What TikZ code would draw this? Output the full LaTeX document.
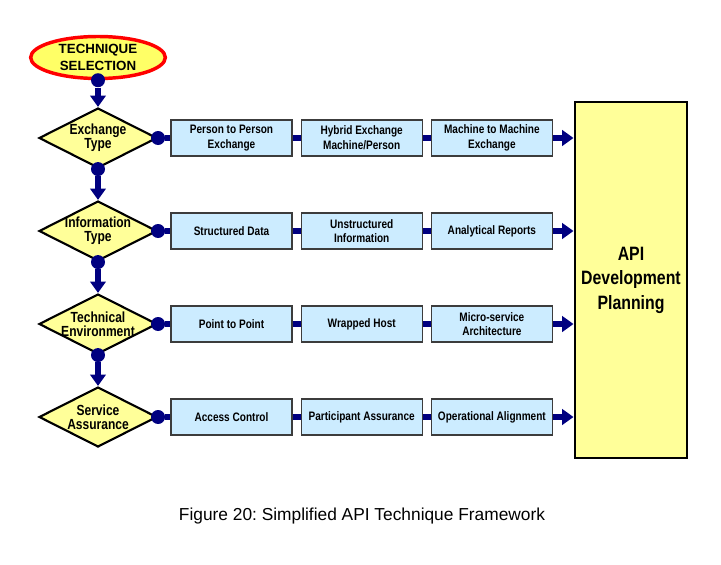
\documentclass[tikz,border=0pt]{standalone}
\usepackage{fontspec}
\setmainfont{Liberation Sans}
\newfontfamily\narrowfont[FakeStretch=0.82]{Liberation Sans}
\usetikzlibrary{positioning,arrows.meta,shapes.geometric}
\definecolor{linkblue}{RGB}{0,0,128}
\definecolor{startfill}{RGB}{255,255,102}
\definecolor{decfill}{RGB}{255,255,153}
\definecolor{softblue}{RGB}{204,236,255}
\definecolor{boxrule}{RGB}{60,60,60}
\tikzset{
  startnode/.style={ellipse,draw=red,line width=2.6pt,fill=startfill,minimum width=101pt,minimum height=31.5pt,inner sep=0pt,align=center,font=\bfseries\fontsize{10}{12.7}\selectfont},
  decision/.style={diamond,draw=black,line width=1.6pt,fill=decfill,minimum width=88.5pt,minimum height=45pt,inner sep=0pt},
  dectext/.style={align=center,inner sep=0pt,font=\narrowfont\bfseries\fontsize{11}{10.8}\selectfont},
  option/.style={rectangle,draw=boxrule,line width=0.9pt,fill=softblue,align=center,minimum width=90.75pt,minimum height=27pt,inner sep=1pt,font=\narrowfont\bfseries\fontsize{9.2}{11}\selectfont},
  target/.style={rectangle,draw=black,line width=2.2pt,fill=decfill,align=center,minimum width=84pt,minimum height=267pt,font=\narrowfont\bfseries\fontsize{14.5}{18.4}\selectfont},
  dot/.style={circle,fill=linkblue,minimum size=10.5pt,inner sep=0pt},
  link/.style={draw=linkblue,line width=4.2pt},
  linkarrow/.style={draw=linkblue,line width=4.2pt,-{Triangle[length=8.5pt,width=11.5pt]}}
}
\begin{document}
\begin{tikzpicture}[x=0.75pt,y=-0.75pt,node distance=6pt]
  \useasboundingbox (0,0) rectangle (721,564);
  \node[startnode] (sel) at (98,57.5) {TECHNIQUE\\SELECTION};
  \node[target] (plan) at (631,280) {API\\Development\\Planning};

  \node[decision,label={[dectext]center:Exchange\\Type}] (exch) at (98,138) {};
  \node[decision,label={[dectext]center:Information\\Type}] (info) at (98,231) {};
  \node[decision,label={[dectext]center:Technical\\Environment}] (tech) at (98,324) {};
  \node[decision,label={[dectext]center:Service\\Assurance}] (serv) at (98,417) {};

  \node[option] (pp) at (231.5,138) {Person to Person\\Exchange};
  \node[option,right=of pp] (hyb) {Hybrid Exchange\\Machine/Person};
  \node[option,right=of hyb] (mm) {Machine to Machine\\Exchange};
  \node[option] (struct) at (231.5,231) {Structured Data};
  \node[option,right=of struct] (unstr) {Unstructured\\Information};
  \node[option,right=of unstr] (anl) {Analytical Reports};
  \node[option] (ptp) at (231.5,324) {Point to Point};
  \node[option,right=of ptp] (wrap) {Wrapped Host};
  \node[option,right=of wrap] (micro) {Micro-service\\Architecture};
  \node[option] (acc) at (231.5,417) {Access Control};
  \node[option,right=of acc] (part) {Participant Assurance};
  \node[option,right=of part] (oper) {Operational Alignment};

  % dots on the corners
  \node[dot] (seldot) at (sel.south) {};
  \node[dot] (exchdot) at (exch.east) {};
  \node[dot] (exchdown) at (exch.south) {};
  \node[dot] (infodot) at (info.east) {};
  \node[dot] (infodown) at (info.south) {};
  \node[dot] (techdot) at (tech.east) {};
  \node[dot] (techdown) at (tech.south) {};
  \node[dot] (servdot) at (serv.east) {};

  \draw[linkarrow] (seldot) -- (exch);
  \draw[linkarrow] (exchdown) -- (info);
  \draw[linkarrow] (infodown) -- (tech);
  \draw[linkarrow] (techdown) -- (serv);

  \draw[link] (exchdot) -- (pp);
  \draw[link] (pp) -- (hyb);
  \draw[link] (hyb) -- (mm);
  \draw[linkarrow] (mm.east) -- (mm.east -| plan.west);
  \draw[link] (infodot) -- (struct);
  \draw[link] (struct) -- (unstr);
  \draw[link] (unstr) -- (anl);
  \draw[linkarrow] (anl.east) -- (anl.east -| plan.west);
  \draw[link] (techdot) -- (ptp);
  \draw[link] (ptp) -- (wrap);
  \draw[link] (wrap) -- (micro);
  \draw[linkarrow] (micro.east) -- (micro.east -| plan.west);
  \draw[link] (servdot) -- (acc);
  \draw[link] (acc) -- (part);
  \draw[link] (part) -- (oper);
  \draw[linkarrow] (oper.east) -- (oper.east -| plan.west);

  \node[font=\frenchspacing\fontsize{13}{15}\selectfont] (caption) at (362,516) {Figure 20: Simplified API Technique Framework};
\end{tikzpicture}
\end{document}
